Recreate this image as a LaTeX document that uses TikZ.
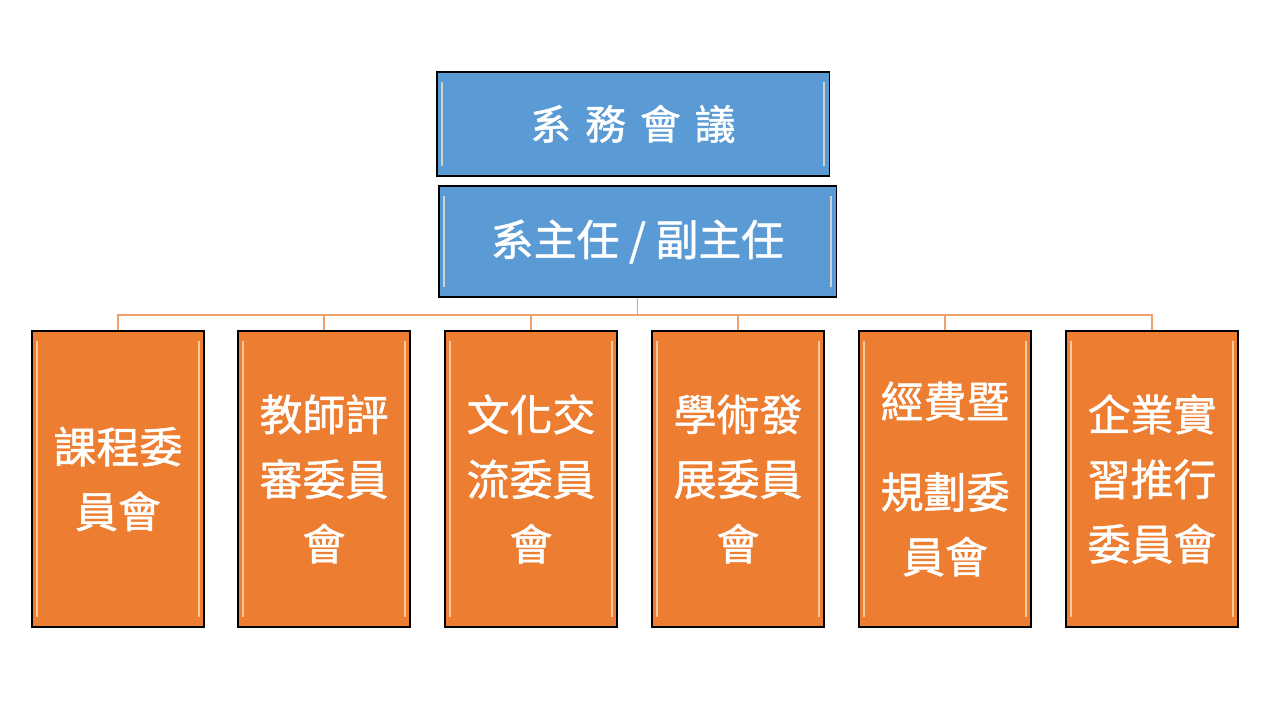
\documentclass[tikz,border=0pt]{standalone}
\usepackage{fontspec}
\newfontfamily\cjk[FakeBold=1.2]{Noto Sans CJK TC}
\definecolor{boxblue}{RGB}{91,155,213}
\definecolor{boxorange}{RGB}{237,125,49}
\definecolor{connorange}{RGB}{240,160,110}
\definecolor{bevelhi}{RGB}{255,235,200}
\begin{document}
\begin{tikzpicture}[x=0.025cm,y=-0.025cm,
  bevel/.style={path picture={
    \draw[bevelhi,opacity=0.7,line width=1.5pt]
      ([xshift=3.5pt,yshift=-7pt]path picture bounding box.north west) --
      ([xshift=3.5pt,yshift=7pt]path picture bounding box.south west);
    \draw[bevelhi,opacity=0.7,line width=1.5pt]
      ([xshift=-3.5pt,yshift=-7pt]path picture bounding box.north east) --
      ([xshift=-3.5pt,yshift=7pt]path picture bounding box.south east);}},
  bluebox/.style={draw=black,line width=0.8pt,fill=boxblue,bevel,text=white,
    font=\cjk\fontsize{29}{34}\selectfont,inner sep=0pt},
  orangebox/.style={draw=black,line width=0.8pt,fill=boxorange,bevel,text=white,
    minimum width=4.3cm,minimum height=7.4cm,align=center,
    font=\cjk\fontsize{30.5}{46}\selectfont,inner sep=0pt},
  conn/.style={draw=connorange,line width=0.9pt}]
\useasboundingbox (0,0) rectangle (1280,720);
\fill[white] (0,0) rectangle (1280,720);
\node[bluebox,minimum width=9.8cm,minimum height=2.6cm] (council) at (633,124)
  {系\hspace{0.35cm}務\hspace{0.35cm}會\hspace{0.35cm}議};
\node[bluebox,minimum width=9.925cm,minimum height=2.775cm,
  font=\cjk\fontsize{30.5}{36}\selectfont] (mgr) at (637.5,241.5)
  {系主任 / 副主任};
\node[orangebox] (c1) at (118,479) {課程委\\員會};
\node[orangebox] (c2) at (324,479) {教師評\\審委員\\會};
\node[orangebox] (c3) at (531,479) {文化交\\流委員\\會};
\node[orangebox] (c4) at (738,479) {學術發\\展委員\\會};
\node[orangebox] (c5) at (945,479) {經費暨\\[0.65cm]規劃委\\員會};
\node[orangebox] (c6) at (1152,479) {企業實\\習推行\\委員會};
\coordinate (bus) at (637,315);
\foreach \c in {c1,c2,c3,c4,c5,c6}{
  \draw[conn] (mgr.south) -- (mgr.south |- bus) -| (\c.north);
}
\end{tikzpicture}
\end{document}
